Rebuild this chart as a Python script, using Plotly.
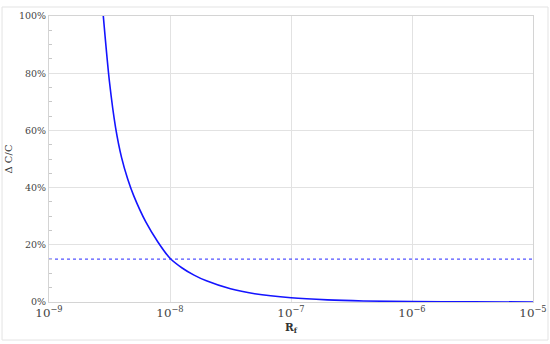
import plotly.graph_objects as go

# values
rf = [2.81e-9, 3.16e-9, 3.55e-9, 3.98e-9, 4.47e-9, 5.01e-9, 6.31e-9, 7.94e-9,
      1.0e-8, 1.26e-8, 1.58e-8, 2.0e-8, 3.16e-8, 5.01e-8, 1.0e-7, 2.0e-7,
      3.98e-7, 1.0e-6, 3.16e-6, 1.0e-5]
delta_c = [1.00, 0.77, 0.61, 0.505, 0.43, 0.372, 0.28, 0.21,
           0.153, 0.119, 0.094, 0.074, 0.046, 0.029, 0.0148, 0.0074,
           0.0037, 0.0015, 0.00047, 0.00015]
threshold_x = [1e-9, 1e-5]
threshold_y = [0.15, 0.15]

FONT = "DejaVu Serif"

fig = go.Figure()
fig.add_trace(go.Scatter(x=rf, y=delta_c, mode="lines",
                         line=dict(color="#1414ff", width=1.6, shape="spline", smoothing=0.8),
                         showlegend=False))
fig.add_trace(go.Scatter(x=threshold_x, y=threshold_y, mode="lines",
                         line=dict(color="#2828ff", width=1, dash="dot"),
                         showlegend=False))

# outer frame around the whole chart
fig.add_shape(type="rect", xref="paper", yref="paper",
              x0=-0.097, x1=1.031, y0=-0.133, y1=1.0315,
              line=dict(color="#e3e3e3", width=1))

fig.update_xaxes(type="log", range=[-9, -5], dtick=1, exponentformat="power",
                 showgrid=True, gridcolor="#e2e2e2", showline=True, mirror=True,
                 linecolor="#d4d4d4", ticks="", zeroline=False, automargin=False,
                 tickfont=dict(family=FONT, size=9.5, color="#444"),
                 title=dict(text="<b>R<sub>f</sub></b>", standoff=4,
                            font=dict(family=FONT, size=10.5, color="#333")))
fig.update_yaxes(range=[0, 1], dtick=0.2, tickformat=".0%",
                 showgrid=True, gridcolor="#e2e2e2", showline=True, mirror=True,
                 linecolor="#d4d4d4", ticks="", zeroline=False, automargin=False,
                 minor=dict(dtick=0.05, ticks="inside", ticklen=3,
                            tickcolor="#c8c8c8", showgrid=False),
                 tickfont=dict(family=FONT, size=9.5, color="#444"),
                 title=dict(text="Δ C/C", standoff=4,
                            font=dict(family=FONT, size=10, color="#333")))

fig.update_layout(width=550, height=344,
                  margin=dict(l=49, r=17, t=16, b=42),
                  plot_bgcolor="white", paper_bgcolor="white")

# drop the page's default body margin so the figure sits at the window corner
fig.write_html("out.html", config={"displayModeBar": False},
               post_script="document.body.style.margin='0';")
